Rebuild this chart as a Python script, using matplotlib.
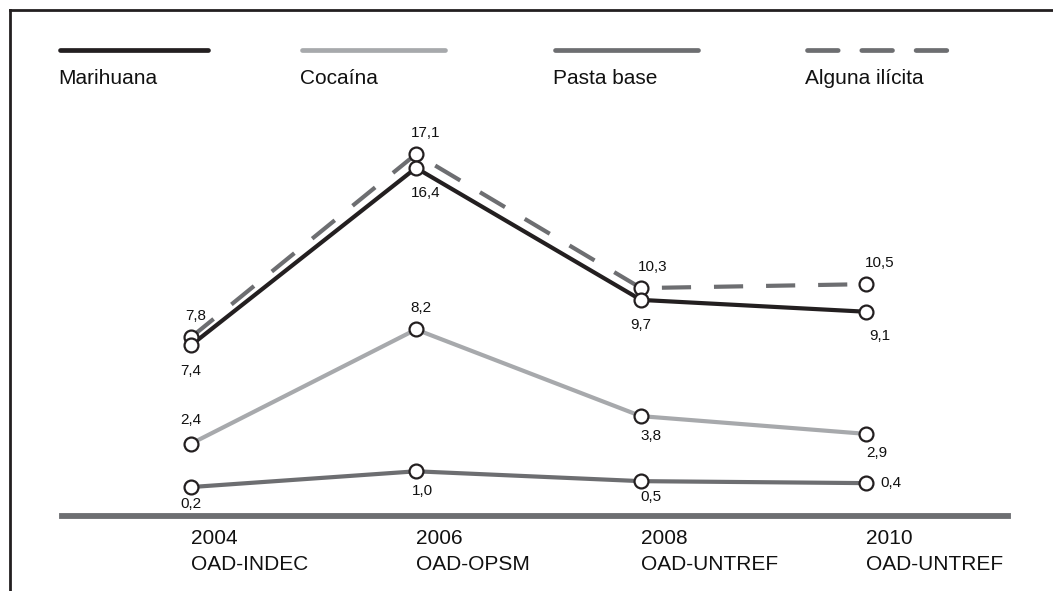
import matplotlib
matplotlib.use("Agg")
import matplotlib.pyplot as plt
from matplotlib.lines import Line2D

plt.rcParams['font.family'] = ['Liberation Sans', 'DejaVu Sans']

years = ["2004", "2006", "2008", "2010"]
sources = ["OAD-INDEC", "OAD-OPSM", "OAD-UNTREF", "OAD-UNTREF"]

marihuana = [7.4, 16.4, 9.7, 9.1]
cocaina = [2.4, 8.2, 3.8, 2.9]
pasta_base = [0.2, 1.0, 0.5, 0.4]
alguna_ilicita = [7.8, 17.1, 10.3, 10.5]

W, H = 1053, 591
BLACK = "#231f20"
LIGHT = "#a7a9ac"
DARK = "#6d6e71"

# (dx, dy) in pixels from each marker, plus horizontal alignment
label_pos = {
    "mar": [(0, -26, "center"), (10, -25, "center"), (0, -25, "center"), (14, -24, "center")],
    "coc": [(0, 24, "center"), (5, 21, "center"), (10, -20, "center"), (11, -19, "center")],
    "pas": [(0, -17, "center"), (6, -20, "center"), (10, -16, "center"), (14, 0, "left")],
    "alg": [(5, 21, "center"), (10, 21, "center"), (12, 21, "center"), (14, 21, "center")],
}

fig = plt.figure(figsize=(W / 100, H / 100), dpi=100)
ax = fig.add_axes([0, 0, 1, 1])
ax.set_axis_off()

# x: categories 0..3 sit at 191 + 225*i px; y: 0 at 491 px, 19.7 px per unit
ax.set_xlim(-191 / 225, (W - 191) / 225)
ax.set_ylim((491 - H) / 19.7, 491 / 19.7)

x = list(range(len(years)))


def fx(px):
    return px / W


def fy(py):
    return 1 - py / H


series = [
    ("alg", alguna_ilicita, DARK, (0, (7, 5.5))),
    ("pas", pasta_base, DARK, "-"),
    ("coc", cocaina, LIGHT, "-"),
    ("mar", marihuana, BLACK, "-"),
]

for key, vals, color, ls in series:
    ax.plot(x, vals, color=color, lw=3, ls=ls, dash_capstyle="butt",
            solid_capstyle="butt", zorder=2)

for key, vals, color, ls in series:
    ax.plot(x, vals, ls="none", marker="o", ms=10, mfc="white", mec=BLACK,
            mew=1.6, zorder=4)
    for i, v in enumerate(vals):
        dx, dy, ha = label_pos[key][i]
        ax.annotate(f"{v:.1f}".replace(".", ","), (i, v),
                    xytext=(dx / 1.389, dy / 1.389), textcoords="offset points",
                    ha=ha, va="center", fontsize=11, color="#111111", zorder=5)

# category axis line and labels
fig.add_artist(Line2D([fx(62), fx(1008)], [fy(516), fy(516)], color=DARK, lw=4.2))
for i, (yr, src) in enumerate(zip(years, sources)):
    px = 191 + 225 * i
    fig.text(fx(px), fy(539), yr, fontsize=15, ha="left", va="center", color="#111111")
    fig.text(fx(px), fy(564), src, fontsize=15, ha="left", va="center", color="#111111")

# legend across the top
legend = [
    ("Marihuana", BLACK, "-", 58, 210),
    ("Cocaína", LIGHT, "-", 300, 447),
    ("Pasta base", DARK, "-", 553, 700),
    ("Alguna ilícita", DARK, (0, (6.5, 5.0)), 805, 950),
]
for name, color, ls, x0, x1 in legend:
    fig.add_artist(Line2D([fx(x0 + 2), fx(x1 - 2)], [fy(50), fy(50)], color=color,
                          lw=3.4, ls=ls, solid_capstyle="round", dash_capstyle="round"))
    fig.text(fx(x0), fy(79), name, fontsize=15, ha="left", va="center", color="#111111")

# frame on top and left
fig.add_artist(Line2D([fx(10), fx(W)], [fy(10), fy(10)], color="#231f20", lw=2))
fig.add_artist(Line2D([fx(10), fx(10)], [fy(10), fy(H)], color="#231f20", lw=2))

fig.savefig("out.png", dpi=100, facecolor="white")
